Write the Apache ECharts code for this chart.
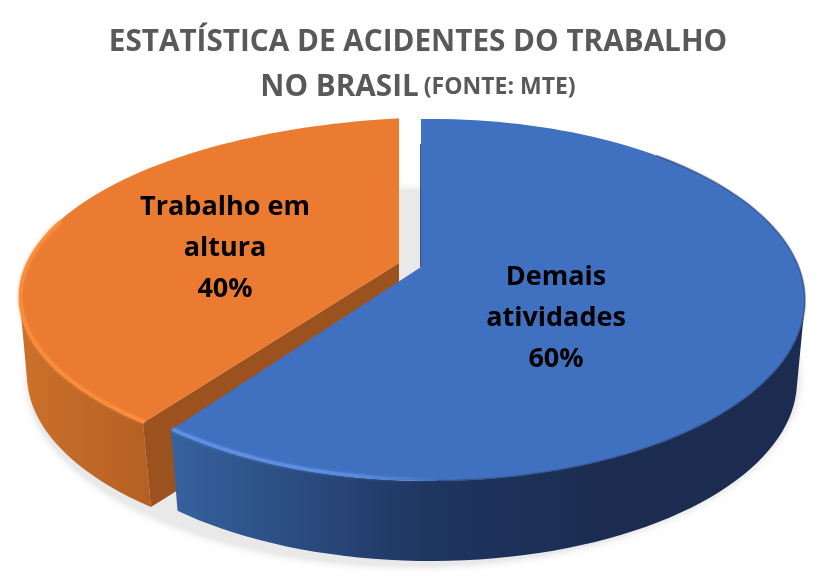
<!DOCTYPE html>
<html><head><meta charset="utf-8">
<style>html,body{margin:0;padding:0;background:#fff}#c{width:827px;height:583px}</style>
<script src="https://cdn.jsdelivr.net/npm/echarts@6/dist/echarts.min.js"></script>
</head><body><div id="c"></div>
<script>
const categories = ['Demais\natividades', 'Trabalho em\naltura'];
const values = [60, 40];
const titleLine1 = 'ESTATÍSTICA DE ACIDENTES DO TRABALHO';
const titleLine2 = 'NO BRASIL';
const titleSource = '(FONTE: MTE)';

const total = values.reduce((a, b) => a + b, 0);
const G = echarts.graphic;
const lin = (stops) => new G.LinearGradient(0, 0, 1, 0, stops.map(s => ({offset: s[0], color: s[1]})));

/* projection of each exploded slice: apex and rim ellipse, top face and base */
const geo = [
  { k: .474, z: 20, top: {ax: 421, ay: 267, cx: 431, cy: 300, rx: 374, ry: 181},
    base: {ax: 421, ay: 352, cx: 431, cy: 381, rx: 366, ry: 180},
    face: '#4070C0', wallFrom: 101, wall: [[0,'#36629f'],[.4,'#1f3661'],[.68,'#1b2c50'],[1,'#1b2c50']],
    cut: '#1b2c50', hiFrom: 216, hiTo: 178, hi: [[0,'rgba(96,144,228,.95)'],[.6,'rgba(96,144,228,.8)'],[1,'rgba(96,144,228,0)']],
    label: [556, 318] },
  { k: .454, z: 10, top: {ax: 399, ay: 263, cx: 452, cy: 297, rx: 433, ry: 180},
    base: {ax: 399, ay: 352, cx: 414, cy: 375, rx: 387, ry: 180},
    face: '#EA7B30', wallFrom: 260, wall: [[0,'#cb712b'],[1,'#b55f22']],
    cut: '#9c521f', hiFrom: 216, hiTo: 285, hi: [[0,'rgba(250,140,60,.95)'],[1,'rgba(250,140,60,.95)']],
    label: [225, 248] }
];

function rim(e, k, deg) {
  const a = deg * Math.PI / 180, dx = Math.sin(a), dy = -k * Math.cos(a);
  const px = (e.ax - e.cx) / e.rx, py = (e.ay - e.cy) / e.ry, qx = dx / e.rx, qy = dy / e.ry;
  const A = qx*qx + qy*qy, B = 2*(px*qx + py*qy), C = px*px + py*py - 1;
  const t = (-B + Math.sqrt(B*B - 4*A*C)) / (2*A);
  return [e.ax + t*dx, e.ay + t*dy];
}
function arc(e, k, from, to) {
  const n = Math.max(2, Math.ceil(Math.abs(to - from) / 2)), out = [];
  for (let i = 0; i <= n; i++) out.push(rim(e, k, from + (to - from) * i / n));
  return out;
}

function renderItem(params, api) {
  const i = params.dataIndex, g = geo[i];
  let before = 0;
  for (let j = 0; j < i; j++) before += values[j];
  const a0 = before / total * 360, a1 = (before + api.value(0)) / total * 360;
  const children = [];
  if (i === 0) {
    children.push({ type: 'ellipse', z2: 1, shape: {cx: 413, cy: 378, rx: 385, ry: 187},
      style: {fill: '#e9e9e9', shadowBlur: 10, shadowColor: 'rgba(0,0,0,.18)'} });
  }
  const wallA = i === 0 ? g.wallFrom : a0, wallB = i === 0 ? a1 : g.wallFrom;
  const wallPts = arc(g.top, g.k, wallA, wallB).concat(arc(g.base, g.k, wallB, wallA));
  children.push({ type: 'polygon', z2: g.z, shape: {points: wallPts}, style: {fill: lin(g.wall)} });
  // radial cut face at the start of the slice
  if (i === 1) {
    children.push({ type: 'polygon', z2: g.z + 1, shape: {points: [
      [g.top.ax, g.top.ay], rim(g.top, g.k, a0), rim(g.base, g.k, a0), [g.base.ax, g.base.ay]
    ]}, style: {fill: g.cut} });
  } else {
    const t = rim(g.top, g.k, a0);
    children.push({ type: 'line', z2: g.z + 2,
      shape: {x1: t[0], y1: t[1] + 25, x2: g.top.ax, y2: g.top.ay},
      style: {stroke: g.cut, lineWidth: 1.6} });
  }
  const facePts = [[g.top.ax, g.top.ay]].concat(arc(g.top, g.k, a0, a1));
  children.push({ type: 'polygon', z2: g.z + 3, shape: {points: facePts}, style: {fill: g.face} });
  const inner = Object.assign({}, g.top, {rx: g.top.rx - 1.5, ry: g.top.ry - 1.5});
  if (i === 0) {
    children.push({ type: 'polyline', z2: g.z + 4, shape: {points: arc(g.top, g.k, 45, 178)},
      style: {fill: 'none', stroke: 'rgba(30,52,95,.45)', lineWidth: 1.5, shadowBlur: 2, shadowColor: 'rgba(30,52,95,.5)'} });
  }
  children.push({ type: 'polyline', z2: g.z + 4, shape: {points: arc(inner, g.k, g.hiFrom, g.hiTo)},
    style: {fill: 'none', stroke: lin(g.hi), lineWidth: 3.5, shadowBlur: 3, shadowColor: g.hi[1][1]} });
  children.push({ type: 'text', z2: 50, style: {
      x: g.label[0], y: g.label[1], align: 'center', verticalAlign: 'middle',
      text: categories[i] + '\n' + api.value(0) + '%',
      font: 'bold 27px "Open Sans", sans-serif', lineHeight: 41, fill: '#000' } });
  return { type: 'group', children };
}

const chart = echarts.init(document.getElementById('c'), null, {renderer: 'canvas'});
chart.setOption({
  animation: false,
  backgroundColor: '#fff',
  title: {
    left: 413, top: 15, textAlign: 'center',
    text: '{a|' + titleLine1 + '}\n{a|' + titleLine2 + '} {b|' + titleSource + '}',
    textStyle: { rich: {
      a: {fontFamily: 'Open Sans', fontWeight: 'bold', fontSize: 29.7, lineHeight: 45, color: '#595959'},
      b: {fontFamily: 'Open Sans', fontWeight: 'bold', fontSize: 23, lineHeight: 45, color: '#595959'}
    } }
  },
  series: [{
    type: 'custom', coordinateSystem: 'none', renderItem, silent: true,
    data: values.map((v, i) => ({name: categories[i], value: [v]}))
  }]
});
</script></body></html>
